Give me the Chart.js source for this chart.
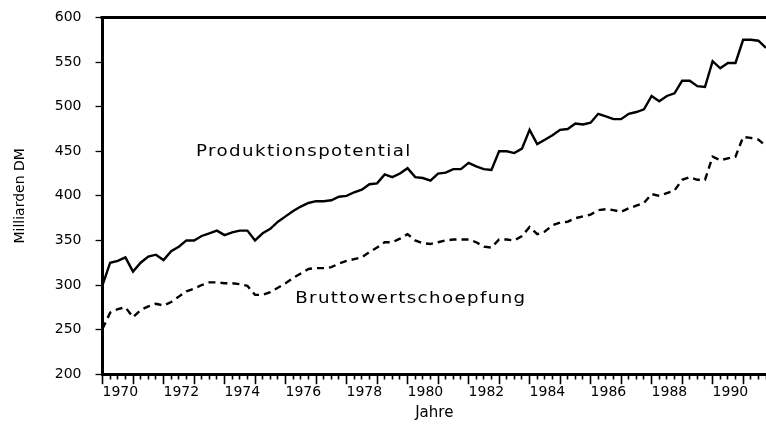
<!DOCTYPE html>
<html>
<head>
<meta charset="utf-8">
<script src="https://cdn.jsdelivr.net/npm/chart.js@4.4.1/dist/chart.umd.min.js"></script>
<style>
html,body{margin:0;padding:0;background:#fff;}
#wrap{width:766px;height:428px;position:relative;}
</style>
</head>
<body>
<div id="wrap"><canvas id="c"></canvas></div>
<script>
// ---- data ----
const years = [1970,1971,1972,1973,1974,1975,1976,1977,1978,1979,1980,1981,1982,1983,1984,1985,1986,1987,1988,1989,1990,1991];
const quarterNames = ['Q1','Q2','Q3','Q4'];
const produktionspotential = [
  300,325,327,331, 315,325,332,334, 328,338,343,350, 350,355,358,361,
  356,359,361,361, 350,358,363,371, 377,383,388,392, 394,394,395,399,
  400,404,407,413, 414,424,421,425, 431,421,420,417, 425,426,430,430,
  437,433,430,429, 450,450,448,453, 474,458,463,468, 474,475,481,480,
  482,492,489,486, 486,492,494,497, 512,506,512,515, 529,529,523,522,
  551,543,549,549, 575,575,574,566
];
const bruttowertschoepfung = [
  251,269,273,275, 264,272,276,279, 277,281,287,293, 296,300,303,303,
  302,302,301,299, 289,289,292,297, 302,308,313,318, 319,319,320,324,
  327,329,331,337, 342,348,348,352, 357,350,347,346, 348,350,351,351,
  351,348,343,342, 351,351,350,355, 365,357,360,367, 370,371,375,377,
  379,384,385,384, 382,386,389,392, 402,400,403,406, 418,421,418,418,
  444,440,442,444, 466,465,463,456
];
const yTicks = [200,250,300,350,400,450,500,550,600];
const labelYears = [1970,1972,1974,1976,1978,1980,1982,1984,1986,1988,1990];
const seriesNames = ['Produktionspotential','Bruttowertschoepfung'];
const axisTitles = {x:'Jahre', y:'Milliarden DM'};

const categories = years.flatMap(y => quarterNames.map(q => y + ' ' + q));

const FONT = 'DejaVu Sans';

// annotations drawn at data positions
const annotations = [
  {text: seriesNames[0], cat: '1973 Q1', value: 449},
  {text: seriesNames[1], cat: '1976 Q2', value: 285}
];

const decorPlugin = {
  id: 'decor',
  afterDraw(chart) {
    const ctx = chart.ctx;
    const a = chart.chartArea;
    const xs = chart.scales.x;
    const ys = chart.scales.y;
    ctx.save();
    // top frame line
    ctx.fillStyle = '#000';
    ctx.fillRect(a.left - 2, a.top - 1.5, a.right - a.left + 2, 3);
    // annotations
    ctx.font = '16px "' + FONT + '"';
    ctx.letterSpacing = '1.2px';
    ctx.textAlign = 'left';
    ctx.textBaseline = 'middle';
    annotations.forEach(an => {
      const px = xs.getPixelForValue(categories.indexOf(an.cat)) + 2;
      const py = ys.getPixelForValue(an.value);
      ctx.save();
      ctx.translate(px, py);
      ctx.scale(1.14, 1);
      ctx.fillText(an.text, 0, 0);
      ctx.restore();
    });
    ctx.restore();
  }
};

const isYearTick = (c) => {
  const lbl = categories[c.index];
  return !lbl || lbl.endsWith('Q1');
};

new Chart(document.getElementById('c'), {
  type: 'line',
  data: {
    labels: categories,
    datasets: [
      {label: seriesNames[0], data: produktionspotential, borderColor: '#000', borderWidth: 2.4, pointRadius: 0, tension: 0, fill: false},
      {label: seriesNames[1], data: bruttowertschoepfung, borderColor: '#000', borderWidth: 2.4, borderDash: [7,5], pointRadius: 0, tension: 0, fill: false}
    ]
  },
  options: {
    responsive: true,
    maintainAspectRatio: false,
    animation: false,
    layout: {padding: {left: 12, right: 0, top: 0, bottom: 6}},
    plugins: {legend: {display: false}, tooltip: {enabled: false}},
    scales: {
      x: {
        type: 'category',
        offset: false,
        border: {display: true, color: '#000', width: 3},
        grid: {
          display: true, drawOnChartArea: false, drawTicks: true,
          tickLength: 10, tickWidth: 1.6, tickColor: '#000',
          tickBorderDash: (c) => isYearTick(c) ? [] : [3.5, 30]
        },
        ticks: {
          autoSkip: false, maxRotation: 0, minRotation: 0, align: 'start',
          color: '#000', padding: 0,
          font: {family: FONT, size: 14},
          callback: (v, i) => {
            const c = categories[i];
            const yr = parseInt(c, 10);
            return (c.endsWith('Q1') && labelYears.includes(yr)) ? String(yr) : '';
          }
        },
        title: {display: true, text: axisTitles.x, color: '#000', font: {family: FONT, size: 15}, padding: {top: 3, bottom: 0}}
      },
      y: {
        type: 'linear',
        min: 200, max: 600,
        border: {display: true, color: '#000', width: 3},
        grid: {display: true, drawOnChartArea: false, drawTicks: true, tickLength: 7, tickWidth: 1.3, tickColor: '#000'},
        afterBuildTicks: (scale) => { scale.ticks = yTicks.map(v => ({value: v})); },
        ticks: {color: '#000', padding: 14, font: {family: FONT, size: 14, lineHeight: 0.5}},
        title: {display: true, text: axisTitles.y, color: '#000', font: {family: FONT, size: 14}, padding: {top: 0, bottom: 12}}
      }
    }
  },
  plugins: [decorPlugin]
});
</script>
</body>
</html>
